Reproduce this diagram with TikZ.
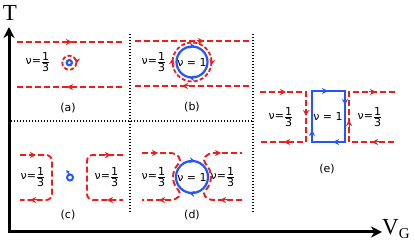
\documentclass[tikz,border=0pt]{standalone}
\usepackage{amsmath}
\usepackage{fontspec}
\setmainfont{DejaVu Sans}
\newfontfamily\axisfont{Liberation Serif}
\usetikzlibrary{arrows.meta}
\definecolor{myred}{RGB}{240,28,28}
\definecolor{myblue}{RGB}{36,86,252}
\newcommand\onethird{\ensuremath{\genfrac{}{}{0.5pt}{}{\hbox{1}}{\hbox{3}}}}
\begin{document}
\begin{tikzpicture}[x=1pt,y=-1pt,
  rd/.style={myred, line width=1.9pt, dash pattern=on 6pt off 3pt},
  rdc/.style={myred, line width=1.8pt, dash pattern=on 4pt off 2.2pt},
  bl/.style={myblue, line width=2.2pt},
  rtip/.style={myred, line width=1pt, -{Stealth[length=6pt,width=6pt,inset=2pt]}},
  btip/.style={myblue, line width=1pt, -{Stealth[length=6pt,width=6pt,inset=2pt]}},
  dotln/.style={black, line width=1.3pt, dash pattern=on 1.3pt off 1.7pt},
  axisline/.style={black, line width=3pt, -{Stealth[length=11pt,width=11pt,inset=3.5pt]}},
  lab/.style={inner sep=0pt, font=\fontsize{11}{13}\selectfont},
  panelcap/.style={inner sep=0pt, font=\fontsize{11}{13}\selectfont},
  axlab/.style={inner sep=0pt, font=\axisfont\fontsize{23}{25}\selectfont}]
\useasboundingbox (0,0) rectangle (415,245);

% axes
\coordinate (O) at (9,232);
\coordinate (Ytip) at (9,27);
\coordinate (Xtip) at (382,232);
\draw[axisline] ([yshift=1.5pt]O) -- (Ytip);
\draw[axisline] ([xshift=-1.5pt]O) -- (Xtip);
\node[axlab] (T) at (10,12.5) {T};
\node[axlab, anchor=west] (VG) at (382,229) {V\raisebox{-4.5pt}{\fontsize{15}{15}\selectfont G}};

% dotted separators
\coordinate (d1t) at (130,34); \coordinate (d1b) at (130,212);
\coordinate (d2t) at (253,34); \coordinate (d2b) at (253,213);
\coordinate (hl) at (11,121); \coordinate (hr) at (253,121);
\draw[dotln] (d1t) -- (d1b);
\draw[dotln] (d2t) -- (d2b);
\draw[dotln] (hl) -- (hr);

% ---------- (a)
\draw[rd] (17,42) -- (122,42);
\draw[rd] (17,87) -- (122,87);
\draw[rtip] (65,42) -- (72,42);
\draw[rtip] (74,87) -- (67,87);
\draw[bl, line width=2.2pt] (69.3,62.7) circle (2.6);
\draw[rdc] (69.3,62.7) circle (7);
\draw[rtip, line width=0.9pt] (69.3,62.7) ++(-35:7) arc[start angle=-35, end angle=10, radius=7];
\node[lab] (la) at (38,62) {ν=\onethird};
\node[panelcap] (ca) at (68,108) {(a)};

% ---------- (b)
\draw[rd] (135,41) -- (250,41);
\draw[rd] (135,86) -- (250,86);
\draw[rtip] (197,41) -- (204,41);
\draw[rtip] (189,86) -- (182,86);
\draw[bl] (192,62) circle (15.5);
\draw[rdc] (192,62) circle (19.5);
\draw[btip] (192,62) ++(260:15.5) arc[start angle=260, end angle=282, radius=15.5];
\draw[btip] (192,62) ++(80:15.5) arc[start angle=80, end angle=102, radius=15.5];
\draw[rtip] (192,62) ++(170:19.5) arc[start angle=170, end angle=190, radius=19.5];
\draw[rtip] (192,62) ++(-10:19.5) arc[start angle=-10, end angle=10, radius=19.5];
\node[lab] (lb) at (154,62) {ν=\onethird};
\node[lab] (nb) at (192,62) {ν = 1};
\node[panelcap] (cb) at (192,107) {(b)};

% ---------- (c)
\draw[rd, rounded corners=6pt] (20,155) -- (52,155) -- (52,200) -- (20,200);
\draw[rd, rounded corners=6pt] (123,155) -- (87,155) -- (87,200) -- (123,200);
\draw[rtip] (29,155) -- (36,155);
\draw[rtip] (37,200) -- (30,200);
\draw[rtip] (104,155) -- (111,155);
\draw[rtip] (114,200) -- (107,200);
\draw[bl, line width=2pt] (70,177.5) circle (3);
\draw[btip, line width=1.1pt, -{Stealth[length=3.5pt,width=3.5pt,inset=1pt]}] (69.5,174.5) -- (66.3,170);
\node[lab] (lc1) at (33,177) {ν=\onethird};
\node[lab] (lc2) at (107,177) {ν=\onethird};
\node[panelcap] (cc) at (68,215) {(c)};

% ---------- (d)
\draw[bl] (192,177) circle (16);
\draw[rd] (142,153) -- (170,153) .. controls (178,153) and (182.3,159.5) .. (178.6,163.6)
  arc[start angle=225, end angle=135, radius=19]
  .. controls (182.3,194.5) and (178,200) .. (170,200) -- (142,200);
\draw[rd] (242,200) -- (214,200) .. controls (206,200) and (201.7,194.5) .. (205.4,190.4)
  arc[start angle=45, end angle=-45, radius=19]
  .. controls (201.7,159.5) and (206,153) .. (214,153) -- (242,153);
\draw[rtip] (151,153) -- (158,153);
\draw[rtip] (166,200) -- (159,200);
\draw[rtip] (214,153) -- (221,153);
\draw[rtip] (227,200) -- (220,200);
\draw[btip] (192,177) ++(260:16) arc[start angle=260, end angle=282, radius=16];
\draw[btip] (192,177) ++(80:16) arc[start angle=80, end angle=102, radius=16];
\node[lab] (ld1) at (154,177) {ν=\onethird};
\node[lab] (ld2) at (223,177) {ν=\onethird};
\node[lab] (nd) at (192,177) {ν = 1};
\node[panelcap] (cd) at (192,215) {(d)};

% ---------- (e)
\draw[bl] (312,91) rectangle (345,142);
\draw[btip] (321,91) -- (328,91);
\draw[btip] (345,98) -- (345,105);
\draw[btip] (340,142) -- (333,142);
\draw[btip] (312,137) -- (312,130);
\draw[rd] (260,92) -- (306,92) -- (306,142) -- (260,142);
\draw[rd] (395,92) -- (349,92) -- (349,142) -- (395,142);
\draw[rtip] (279,92) -- (286,92);
\draw[rtip] (306,109) -- (306,116);
\draw[rtip] (291,142) -- (284,142);
\draw[rtip] (349,127) -- (349,120);
\draw[rtip] (369,92) -- (376,92);
\draw[rtip] (379,142) -- (372,142);
\node[lab] (le1) at (281,117) {ν=\onethird};
\node[lab] (ne) at (328,116) {ν = 1};
\node[lab] (le2) at (370,117) {ν=\onethird};
\node[panelcap] (ce) at (327,169) {(e)};
\end{tikzpicture}
\end{document}
